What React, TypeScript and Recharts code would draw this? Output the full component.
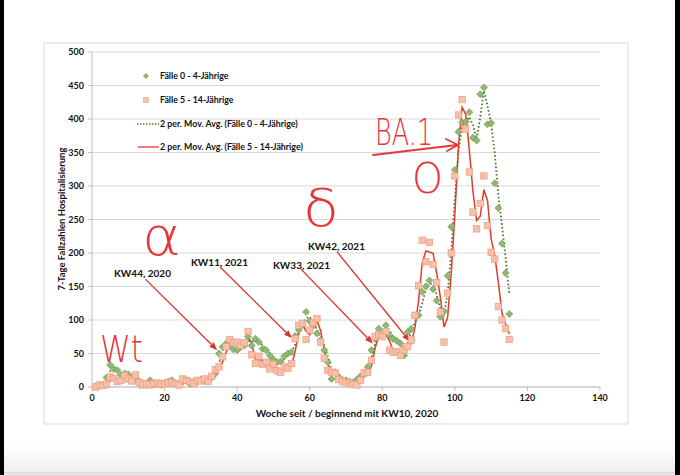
import React from 'react';
import { ComposedChart, Line, XAxis, YAxis, CartesianGrid, ReferenceLine, Legend } from 'recharts';

// 7-day hospitalisation counts per week (week 1 = KW10, 2020)
const casesAge0to4 = [
  1, 2, 3, 14, 33, 27, 25, 18, 20, 19,
  12, 11, 6, 4, 5, 10, 4, 5, 3, 6,
  8, 10, 5, 4, 8, 9, 5, 6, 8, 11,
  9, 10, 14, 20, 50, 60, 65, 62, 56, 55,
  60, 62, 75, 62, 72, 67, 57, 55, 47, 41,
  37, 38, 46, 50, 52, 76, 85, 93, 112, 98,
  92, 80, 70, 55, 37, 12, 22, 15, 10, 10,
  8, 7, 11, 16, 20, 30, 55, 72, 87, 80,
  92, 77, 72, 69, 65, 47, 82, 87, 107, 107,
  142, 150, 159, 146, 129, 105, 113, 166, 239, 324,
  381, 395, 396, 410, 372, 368, 437, 447, 392, 394,
  304, 267, 214, 170, 109,
];

const casesAge5to14 = [
  0, 3, 2, 4, 15, 13, 8, 10, 17, 12,
  9, 18, 7, 3, 5, 3, 5, 6, 4, 5,
  6, 7, 5, 3, 12, 10, 8, 5, 10, 9,
  12, 8, 16, 26, 30, 45, 60, 71, 66, 67,
  62, 66, 83, 48, 35, 46, 34, 37, 27, 34,
  24, 22, 30, 28, 35, 72, 92, 95, 71, 85,
  96, 102, 67, 43, 25, 22, 21, 11, 8, 7,
  6, 4, 3, 10, 21, 22, 40, 75, 78, 75,
  83, 55, 52, 53, 47, 55, 60, 70, 107, 151,
  219, 187, 216, 183, 156, 112, 67, 140, 200, 315,
  406, 429, 385, 321, 261, 236, 274, 315, 241, 201,
  191, 120, 100, 87, 71,
];

const xTicks = [0, 20, 40, 60, 80, 100, 120, 140];
const yTicks = [0, 50, 100, 150, 200, 250, 300, 350, 400, 450, 500];

const seriesNames = {
  a: 'Fälle 0 - 4-Jährige',
  b: 'Fälle 5 - 14-Jährige',
  maA: '2 per. Mov. Avg. (Fälle 0 - 4-Jährige)',
  maB: '2 per. Mov. Avg. (Fälle 5 - 14-Jährige)',
};
const legendOrder = ['a', 'b', 'maA', 'maB'];

// annotation arrows in data coordinates: [weekStart, valueStart, weekEnd, valueEnd]
const annotationArrows = [
  [14.7, 161, 34.5, 55],
  [35.3, 179, 55.1, 73],
  [57.6, 176, 77.4, 65],
  [67.5, 202, 87.6, 68],
];

const data = casesAge0to4.map((a, i) => ({
  week: i + 1,
  a,
  b: casesAge5to14[i],
  maA: i > 0 ? (casesAge0to4[i - 1] + a) / 2 : null,
  maB: i > 0 ? (casesAge5to14[i - 1] + casesAge5to14[i]) / 2 : null,
}));

const GREEN_FILL = '#94b874';
const GREEN_STROKE = '#6f9a4e';
const ORANGE_FILL = '#f7c0aa';
const ORANGE_STROKE = '#ef9c80';
const GREEN_LINE = '#3f7d27';
const RED_LINE = '#e23a2c';
const ARROW = '#d9352b';
const HAND = '#e8353a';
const FONT = 'Lato, "Open Sans", sans-serif';

const DiamondDot = (props: any) => {
  const { cx, cy, index } = props;
  if (cx == null || cy == null) return <g key={`d-${index}`} />;
  const r = 3.5;
  return (
    <path
      key={`d-${index}`}
      d={`M${cx},${cy - r}L${cx + r},${cy}L${cx},${cy + r}L${cx - r},${cy}Z`}
      fill={GREEN_FILL}
      stroke={GREEN_STROKE}
      strokeWidth={0.7}
    />
  );
};

const SquareDot = (props: any) => {
  const { cx, cy, index } = props;
  if (cx == null || cy == null) return <g key={`s-${index}`} />;
  const s = 3.2;
  return (
    <rect
      key={`s-${index}`}
      x={cx - s}
      y={cy - s}
      width={s * 2}
      height={s * 2}
      fill={ORANGE_FILL}
      stroke={ORANGE_STROKE}
      strokeWidth={0.7}
    />
  );
};

const ArrowShape = (props: any) => {
  const { x1, y1, x2, y2 } = props;
  const ang = Math.atan2(y2 - y1, x2 - x1);
  const L = 8;
  const W = 3.2;
  const bx = x2 - L * Math.cos(ang);
  const by = y2 - L * Math.sin(ang);
  const px = -Math.sin(ang) * W;
  const py = Math.cos(ang) * W;
  return (
    <g>
      <line x1={x1} y1={y1} x2={bx} y2={by} stroke={ARROW} strokeWidth={1.3} />
      <path d={`M${x2},${y2}L${bx + px},${by + py}L${bx - px},${by - py}Z`} fill={ARROW} />
    </g>
  );
};

const legendRowY = [10, 34, 58, 81];

const renderLegend = (props: any) => {
  const payload = [...(props.payload || [])].sort(
    (p: any, q: any) => legendOrder.indexOf(p.dataKey) - legendOrder.indexOf(q.dataKey)
  );
  return (
    <svg width={200} height={92} style={{ overflow: 'visible' }}>
      {payload.map((entry: any, i: number) => {
        const y = legendRowY[i] ?? i * 24 + 10;
        const key = entry.dataKey;
        let icon = null;
        if (key === 'a') {
          icon = <path d={`M16,${y - 2.6}L18.6,${y}L16,${y + 2.6}L13.4,${y}Z`} fill={GREEN_FILL} stroke={GREEN_STROKE} strokeWidth={0.6} />;
        } else if (key === 'b') {
          icon = <rect x={13.5} y={y - 2.5} width={5} height={5} fill={ORANGE_FILL} stroke={ORANGE_STROKE} strokeWidth={0.6} />;
        } else if (key === 'maA') {
          icon = <line x1={7} y1={y} x2={29} y2={y} stroke={GREEN_LINE} strokeWidth={1.4} strokeDasharray="1.4 1.6" />;
        } else {
          icon = <line x1={8} y1={y} x2={29} y2={y} stroke={RED_LINE} strokeWidth={1.3} />;
        }
        return (
          <g key={`leg-${i}`}>
            {icon}
            <text x={30} y={y + 3.2} fontSize={8.8} fontWeight={700} fontFamily={FONT} fill="#111">
              {entry.value}
            </text>
          </g>
        );
      })}
    </svg>
  );
};

export default function App() {
  return (
    <div style={{ position: 'absolute', left: 0, top: 0, width: 680, height: 475, background: '#fff', overflow: 'hidden' }}>
      {/* background frame */}
      <svg width={680} height={475} style={{ position: 'absolute', left: 0, top: 0 }}>
        <defs>
          <linearGradient id="bottomShade" x1="0" y1="0" x2="0" y2="1">
            <stop offset="0" stopColor="#ffffff" />
            <stop offset="1" stopColor="#ededed" />
          </linearGradient>
        </defs>
        <rect x={0} y={445} width={680} height={30} fill="url(#bottomShade)" />
        <line x1={0} y1={473} x2={680} y2={473} stroke="#d0d0d0" strokeWidth={1} />
        <rect x={44} y={43} width={584} height={381} fill="#fff" stroke="#d9d9d9" strokeWidth={1} />
      </svg>

      <div style={{ position: 'absolute', left: 0, top: 0 }}>
        <ComposedChart
          width={680}
          height={475}
          data={data}
          margin={{ top: 52, right: 80, bottom: 58, left: 0 }}
          style={{ fontFamily: FONT }}
        >
          <CartesianGrid vertical={false} stroke="#d9d9d9" strokeWidth={1} />
          <XAxis
            dataKey="week"
            type="number"
            domain={[0, 140]}
            ticks={xTicks}
            interval={0}
            height={30}
            stroke="#bfbfbf"
            tickSize={4}
            tickMargin={4}
            tick={{ fontSize: 9, fontWeight: 700, fill: '#111', fontFamily: FONT }}
          />
          <YAxis
            type="number"
            domain={[0, 500]}
            ticks={yTicks}
            interval={0}
            width={92}
            stroke="#bfbfbf"
            tickSize={4}
            tickMargin={4}
            tick={{ fontSize: 9, fontWeight: 700, fill: '#111', fontFamily: FONT }}
          />
          <Legend
            layout="vertical"
            align="center"
            verticalAlign="middle"
            content={renderLegend}
            wrapperStyle={{ position: 'absolute', left: 130, top: 66, width: 200, height: 92 }}
          />
          <Line
            dataKey="a"
            name={seriesNames.a}
            stroke="none"
            dot={DiamondDot}
            activeDot={false}
            legendType="diamond"
            isAnimationActive={false}
          />
          <Line
            dataKey="b"
            name={seriesNames.b}
            stroke="none"
            dot={SquareDot}
            activeDot={false}
            legendType="square"
            isAnimationActive={false}
          />
          <Line
            dataKey="maA"
            name={seriesNames.maA}
            type="linear"
            stroke={GREEN_LINE}
            strokeWidth={1.8}
            strokeDasharray="1.6 2.2"
            dot={false}
            activeDot={false}
            connectNulls
            isAnimationActive={false}
          />
          <Line
            dataKey="maB"
            name={seriesNames.maB}
            type="linear"
            stroke={RED_LINE}
            strokeWidth={1.5}
            dot={false}
            activeDot={false}
            connectNulls
            isAnimationActive={false}
          />
          {annotationArrows.map(([xa, ya, xb, yb], i) => (
            <ReferenceLine
              key={`arrow-${i}`}
              segment={[{ x: xa, y: ya }, { x: xb, y: yb }]}
              ifOverflow="visible"
              shape={ArrowShape}
            />
          ))}
        </ComposedChart>
      </div>

      {/* texts and handwritten notes */}
      <svg width={680} height={475} style={{ position: 'absolute', left: 0, top: 0, pointerEvents: 'none' }}>
        <text x={347} y={417} textAnchor="middle" fontSize={10} fontWeight={700} fontFamily={FONT} fill="#111">
          Woche seit / beginnend mit KW10, 2020
        </text>
        <text
          x={0}
          y={0}
          transform="translate(65,219) rotate(-90)"
          textAnchor="middle"
          fontSize={9.5}
          fontWeight={700}
          fontFamily={FONT}
          fill="#111"
        >
          7-Tage Fallzahlen Hospitalisierung
        </text>

        <g fontSize={10} fontWeight={700} fontFamily={FONT} fill="#111">
          <text x={114} y={277}>KW44, 2020</text>
          <text x={191} y={266}>KW11, 2021</text>
          <text x={273} y={269}>KW33, 2021</text>
          <text x={308} y={250}>KW42, 2021</text>
        </g>

        <g fill={HAND} fontFamily='"DejaVu Sans", sans-serif' fontWeight={200}>
          <text x={100} y={362} fontSize={38} textLength={43} lengthAdjust="spacingAndGlyphs">Wt</text>
          <text x={142} y={255} fontSize={54} textLength={39} lengthAdjust="spacingAndGlyphs">α</text>
          <text x={303} y={226} fontSize={52} textLength={36} lengthAdjust="spacingAndGlyphs">δ</text>
          <text x={375} y={145} fontSize={37} textLength={58} lengthAdjust="spacingAndGlyphs">BA.1</text>
          <text x={412} y={193} fontSize={42} textLength={31} lengthAdjust="spacingAndGlyphs">O</text>
        </g>
        <g stroke={HAND} strokeWidth={1.8} fill="none" strokeLinecap="round" strokeLinejoin="round">
          <path d="M373,155 L457,145" />
          <path d="M446,139 L458,145 L447,151" />
        </g>
      </svg>

      {/* dark photo edges */}
      <div style={{ position: 'absolute', left: 0, top: 0, width: 4, height: 475, background: '#000' }} />
      <div style={{ position: 'absolute', right: 0, top: 0, width: 5, height: 475, background: '#000' }} />
    </div>
  );
}
